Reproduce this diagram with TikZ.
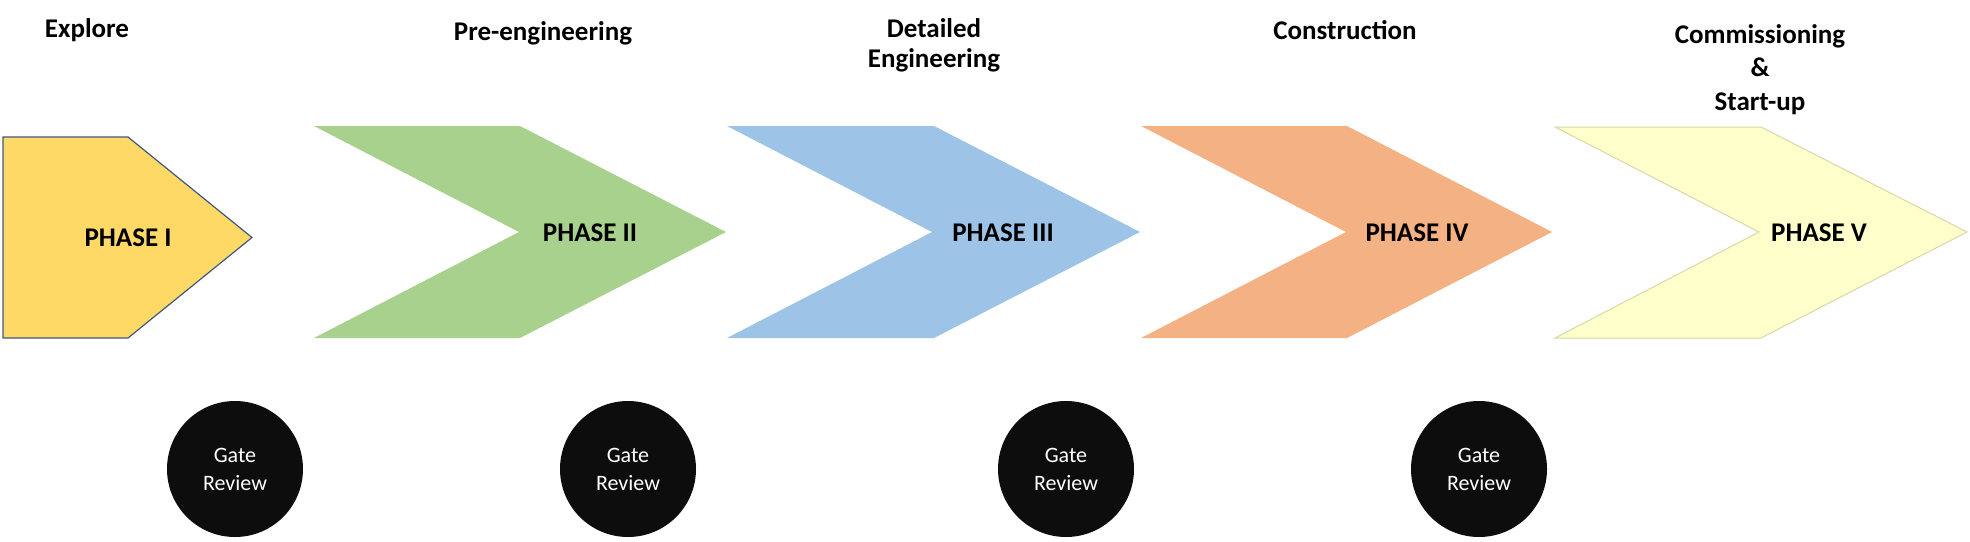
\documentclass[tikz,border=0pt]{standalone}
\usepackage{fontspec}
\setmainfont{Carlito}
\definecolor{phaseone}{HTML}{FFD966}
\definecolor{phasetwo}{HTML}{A9D18E}
\definecolor{phasethree}{HTML}{9DC3E6}
\definecolor{phasefour}{HTML}{F4B183}
\definecolor{phasefive}{HTML}{FFFFCC}
\definecolor{phaseoneline}{HTML}{41587C}
\definecolor{phasefiveline}{HTML}{D8D8A8}
\definecolor{gatefill}{HTML}{0D0D0D}
\begin{document}
\begin{tikzpicture}[x=0.5pt,y=-0.5pt,
  title/.style={font=\bfseries\fontsize{13.5}{15}\selectfont, anchor=base, inner sep=0pt},
  phaselabel/.style={font=\bfseries\fontsize{13.5}{15}\selectfont, inner sep=0pt},
  gate/.style={circle, fill=gatefill, minimum size=68pt, inner sep=0pt, text=white,
    align=center, font=\fontsize{11}{14}\selectfont}]
\useasboundingbox (0,0) rectangle (1970,541);
% Phase I pentagon
\fill[phaseone, draw=phaseoneline, line width=0.6pt]
  (3,137) -- (128,137) -- (252,237.5) -- (128,338) -- (3,338) -- cycle;
% chevrons
\fill[phasetwo] (314,126) -- (520,126) -- (726,232) -- (520,338) -- (314,338) -- (519,232) -- cycle;
\fill[phasethree] (727,126) -- (934,126) -- (1140,232) -- (934,338) -- (727,338) -- (932,232) -- cycle;
\fill[phasefour] (1141,126) -- (1347,126) -- (1552,232) -- (1347,338) -- (1141,338) -- (1346,232) -- cycle;
\fill[phasefive, draw=phasefiveline, line width=0.5pt]
  (1555,127) -- (1761,127) -- (1967,232) -- (1761,338) -- (1555,338) -- (1759,232) -- cycle;
% phase labels
\node[phaselabel] (p1) at (128,238) {PHASE I};
\node[phaselabel] (p2) at (590,233) {PHASE II};
\node[phaselabel] (p3) at (1003,233) {PHASE III};
\node[phaselabel] (p4) at (1417,233) {PHASE IV};
\node[phaselabel] (p5) at (1819,233) {PHASE V};
% titles
\node[title] (t1) at (87,37) {Explore};
\node[title] (t2) at (543,40) {Pre-engineering};
\node[title] (t3a) at (934,37) {Detailed};
\node[title] (t3b) at (934,67) {Engineering};
\node[title] (t4) at (1345,39) {Construction};
\node[title] (t5a) at (1760,43) {Commissioning};
\node[title] (t5b) at (1760,76) {\&};
\node[title] (t5c) at (1760,110) {Start-up};
% gate reviews
\node[gate] (g1) at (235,469) {Gate\\Review};
\node[gate] (g2) at (628,469) {Gate\\Review};
\node[gate] (g3) at (1066,469) {Gate\\Review};
\node[gate] (g4) at (1479,469) {Gate\\Review};
\end{tikzpicture}
\end{document}
